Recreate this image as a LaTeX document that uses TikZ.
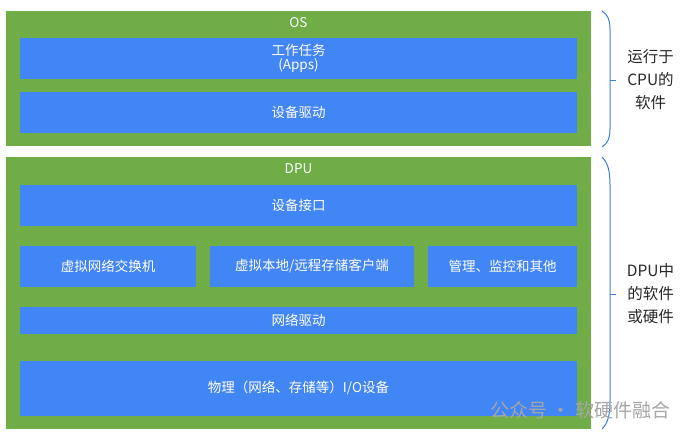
\documentclass[tikz,border=0pt]{standalone}
\usepackage{fontspec}
\setmainfont{Noto Sans CJK SC}
\definecolor{layergreen}{HTML}{70AD47}
\definecolor{boxblue}{HTML}{4285F4}
\definecolor{bracketblue}{HTML}{3A7EE8}
\definecolor{sidetext}{HTML}{262626}
\definecolor{markgray}{HTML}{A6A6A6}
\tikzset{
    layer/.style={rectangle,fill=layergreen,inner sep=0pt},
    block/.style={rectangle,fill=boxblue,inner sep=0pt,text=white,font=\fontsize{13.5}{15}\selectfont,align=center},
    layertitle/.style={text=white,font=\fontsize{13.5}{15}\selectfont,inner sep=0pt},
    sidenote/.style={text=sidetext,font=\fontsize{15.5}{23}\selectfont,align=center,inner sep=0pt},
    bracket/.style={draw=bracketblue,line width=1pt}
}
\begin{document}
\begin{tikzpicture}[x=1pt,y=-1pt]
        \useasboundingbox (0,0) rectangle (691,439);
        % CPU side
        \node[layer,minimum width=585pt,minimum height=135pt] (os) at (298.5,78.5) {};
        \node[layertitle] (osname) at (298.5,23) {OS};
        \node[block,minimum width=557pt,minimum height=40.7pt] (apps) at (298.5,58.7) {工作任务\\[-1pt](Apps)};
        \node[block,minimum width=557pt,minimum height=41pt] (osdrv) at (298.5,112.8) {设备驱动};
        % DPU side
        \node[layer,minimum width=585pt,minimum height=272pt] (dpu) at (298.5,293) {};
        \node[layertitle] (dpuname) at (298.5,169) {DPU};
        \node[block,minimum width=557pt,minimum height=40.7pt] (iface) at (298.5,205.3) {设备接口};
        \node[block,minimum width=176pt,minimum height=40.7pt] (vswitch) at (108,266.3) {虚拟网络交换机};
        \node[block,minimum width=204pt,minimum height=40.7pt] (vstore) at (312,266.3) {虚拟本地/远程存储客户端};
        \node[block,minimum width=149pt,minimum height=40.7pt] (mgmt) at (502.5,266.3) {管理、监控和其他};
        \node[block,minimum width=557pt,minimum height=26.7pt] (netdrv) at (298.5,320.7) {网络驱动};
        \node[block,minimum width=557pt,minimum height=54.7pt] (phyio) at (298.5,388.3) {物理（网络、存储等）I/O设备};
        % brackets on the right
        \coordinate (cputop) at (602,11);
        \coordinate (cpubot) at (602,147);
        \coordinate (cpumid) at (616,80);
        \coordinate (dputop) at (602,157);
        \coordinate (dpubot) at (602,429);
        \coordinate (dpumid) at (616,294);
        \draw[bracket] (cputop) .. controls (608,15) and (610,20) .. (610,29) -- (610,129) .. controls (610,138) and (608,143) .. (cpubot);
        \draw[bracket] (610,80) -- (cpumid);
        \draw[bracket] (dputop) .. controls (608,163) and (610,171) .. (610,185) -- (610,401) .. controls (610,415) and (608,423) .. (dpubot);
        \draw[bracket] (610,294) -- (dpumid);
        \node[sidenote] (cpunote) at (650.5,80) {运行于\\CPU的\\软件};
        \node[sidenote] (dpunote) at (650.5,294) {DPU中\\的软件\\或硬件};
        % mark
        \node[text=markgray,font=\fontsize{19}{20}\selectfont,inner sep=0pt] (mark) at (580.5,410) {公众号 · 软硬件融合};
    \end{tikzpicture}
\end{document}
